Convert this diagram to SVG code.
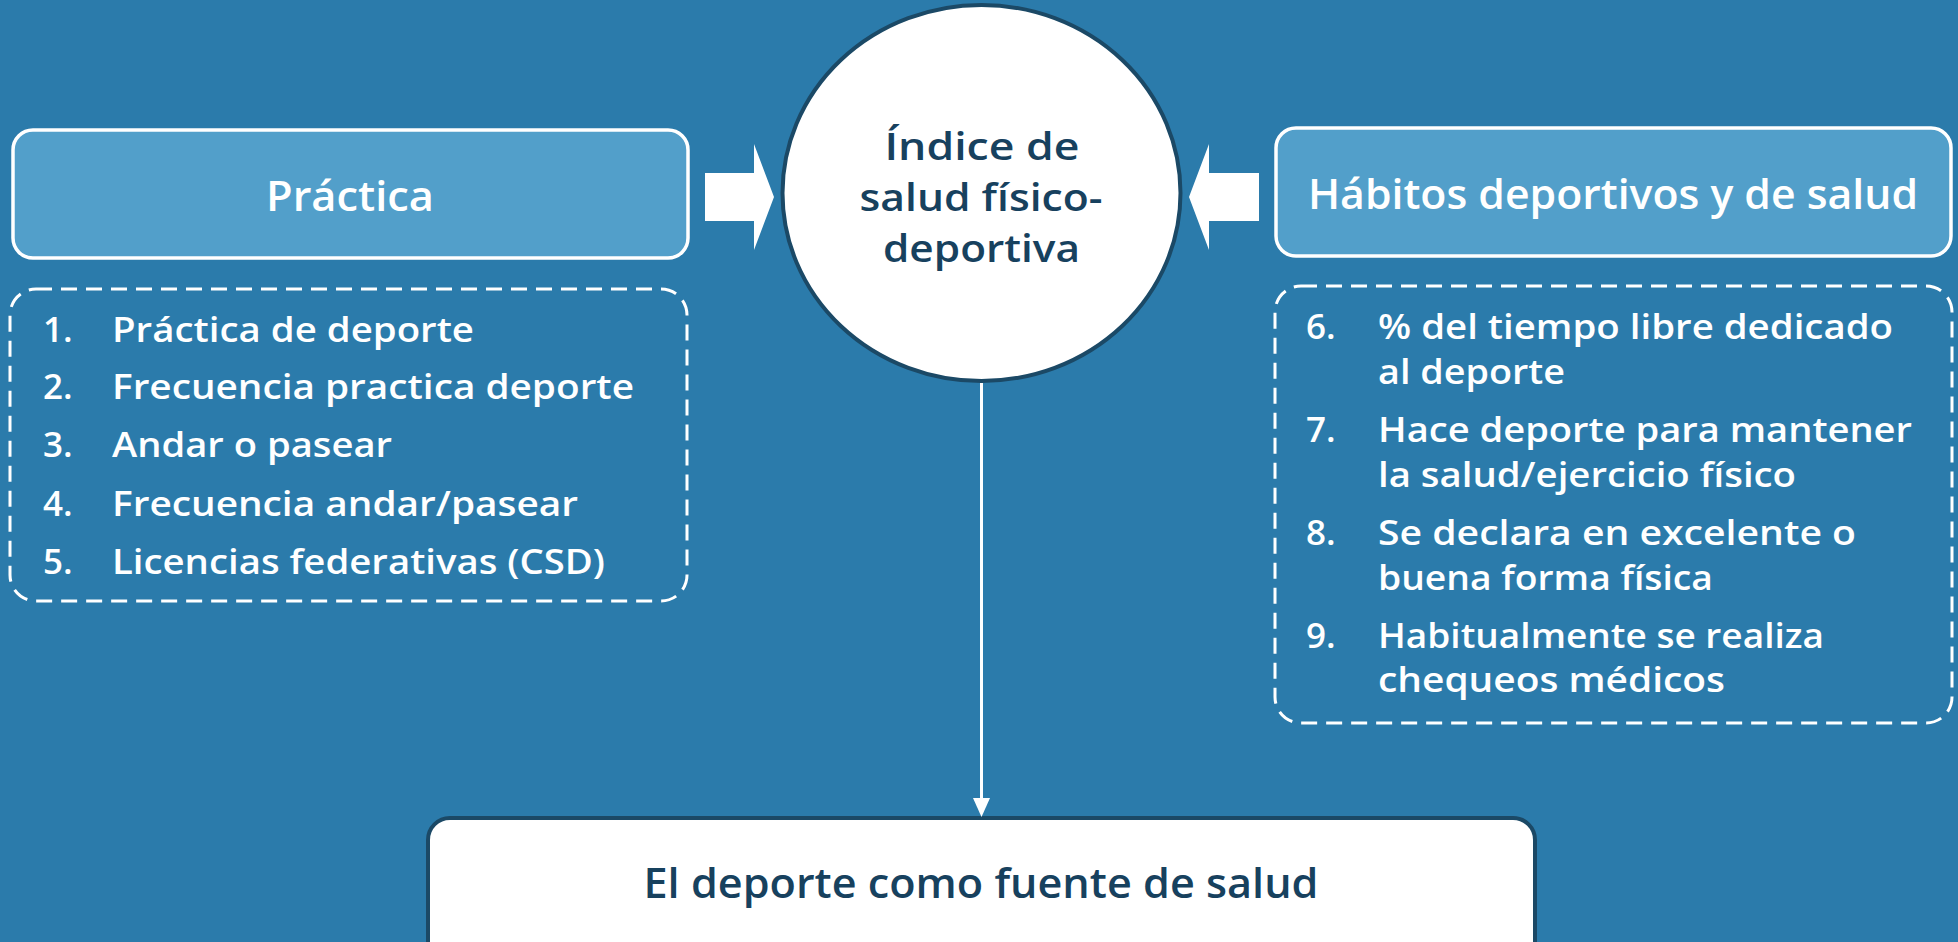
<svg xmlns="http://www.w3.org/2000/svg" width="1958" height="942" viewBox="0 0 1958 942">
<style>
.hdr{fill:#529fca;stroke:#ffffff;stroke-width:3.5}
.dash{fill:none;stroke:#ffffff;stroke-width:3;stroke-dasharray:16 9}
.ht{font-family:"Open Sans","Liberation Sans",sans-serif;font-weight:600;font-size:41px;fill:#ffffff;text-anchor:middle}
.lt{font-family:"Open Sans","Liberation Sans",sans-serif;font-weight:600;font-size:35px;fill:#ffffff}
.dt{font-family:"Open Sans","Liberation Sans",sans-serif;font-weight:600;fill:#17415e;text-anchor:middle}
</style>
<rect width="1958" height="942" fill="#2b7bab"/>
<g id="practica">
<rect class="hdr" x="13" y="130" width="675" height="128" rx="20"/>
<text class="ht" x="350" y="211" textLength="168" lengthAdjust="spacingAndGlyphs">Práctica</text>
</g>
<g id="practica-list">
<rect class="dash" x="10" y="289" width="677" height="312" rx="26"/>
<text class="lt" x="43" y="342">1.</text><text class="lt" x="112" y="342" textLength="362" lengthAdjust="spacingAndGlyphs">Práctica de deporte</text>
<text class="lt" x="43" y="399">2.</text><text class="lt" x="112" y="399" textLength="522" lengthAdjust="spacingAndGlyphs">Frecuencia practica deporte</text>
<text class="lt" x="43" y="457">3.</text><text class="lt" x="112" y="457" textLength="280" lengthAdjust="spacingAndGlyphs">Andar o pasear</text>
<text class="lt" x="43" y="516">4.</text><text class="lt" x="112" y="516" textLength="466" lengthAdjust="spacingAndGlyphs">Frecuencia andar/pasear</text>
<text class="lt" x="43" y="574">5.</text><text class="lt" x="112" y="574" textLength="493" lengthAdjust="spacingAndGlyphs">Licencias federativas (CSD)</text>
</g>
<g id="indice">
<ellipse cx="981.5" cy="193" rx="199" ry="188" fill="#ffffff" stroke="#1b4966" stroke-width="4"/>
<text class="dt" font-size="37" x="982" y="160" textLength="195" lengthAdjust="spacingAndGlyphs">Índice de</text>
<text class="dt" font-size="37" x="981" y="211" textLength="243" lengthAdjust="spacingAndGlyphs">salud físico-</text>
<text class="dt" font-size="37" x="981.5" y="262" textLength="197" lengthAdjust="spacingAndGlyphs">deportiva</text>
</g>
<g id="habitos">
<rect class="hdr" x="1276" y="128" width="675" height="128" rx="20"/>
<text class="ht" x="1613" y="209" textLength="610" lengthAdjust="spacingAndGlyphs">Hábitos deportivos y de salud</text>
</g>
<g id="habitos-list">
<rect class="dash" x="1275" y="286" width="677" height="437" rx="26"/>
<text class="lt" x="1306" y="339">6.</text><text class="lt" x="1378" y="339" textLength="515" lengthAdjust="spacingAndGlyphs">% del tiempo libre dedicado</text>
<text class="lt" x="1378" y="384" textLength="187" lengthAdjust="spacingAndGlyphs">al deporte</text>
<text class="lt" x="1306" y="442">7.</text><text class="lt" x="1378" y="442" textLength="534" lengthAdjust="spacingAndGlyphs">Hace deporte para mantener</text>
<text class="lt" x="1378" y="487" textLength="418" lengthAdjust="spacingAndGlyphs">la salud/ejercicio físico</text>
<text class="lt" x="1306" y="545">8.</text><text class="lt" x="1378" y="545" textLength="478" lengthAdjust="spacingAndGlyphs">Se declara en excelente o</text>
<text class="lt" x="1378" y="590" textLength="335" lengthAdjust="spacingAndGlyphs">buena forma física</text>
<text class="lt" x="1306" y="648">9.</text><text class="lt" x="1378" y="648" textLength="446" lengthAdjust="spacingAndGlyphs">Habitualmente se realiza</text>
<text class="lt" x="1378" y="692" textLength="347" lengthAdjust="spacingAndGlyphs">chequeos médicos</text>
</g>
<g id="fuente">
<rect x="428" y="818" width="1107" height="170" rx="22" fill="#ffffff" stroke="#1b4966" stroke-width="4"/>
<text class="dt" font-size="42" x="981" y="898" textLength="675" lengthAdjust="spacingAndGlyphs">El deporte como fuente de salud</text>
</g>
<g id="connectors" fill="#ffffff">
<polygon points="705,173 754,173 754,144 774,197 754,250 754,221 705,221"/>
<polygon points="1259,173 1209,173 1209,144 1189,197 1209,250 1209,221 1259,221"/>
<line x1="981.5" y1="383" x2="981.5" y2="800" stroke="#ffffff" stroke-width="3"/>
<polygon points="973,798 990,798 981.5,817"/>
</g>
</svg>
